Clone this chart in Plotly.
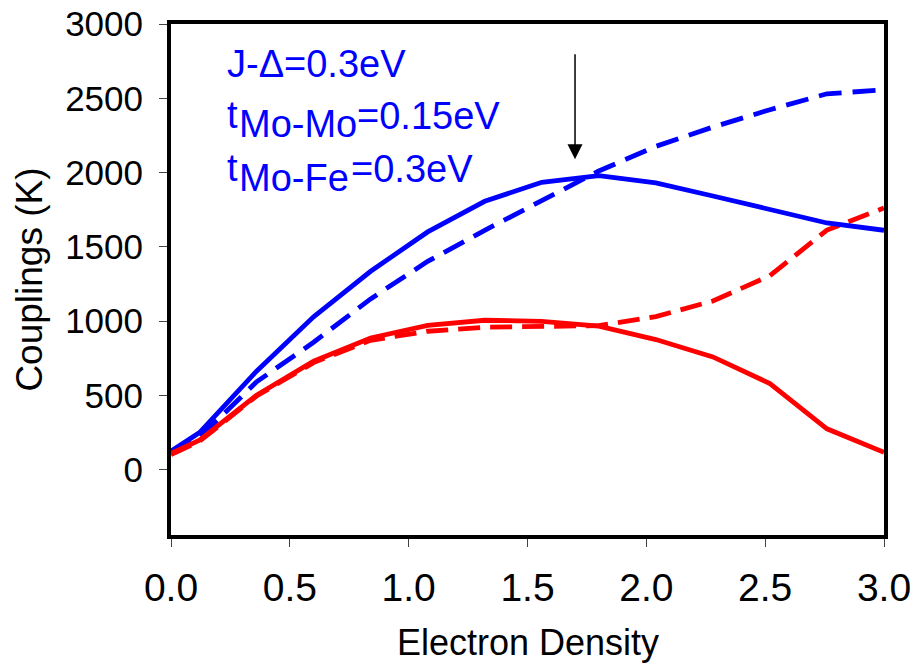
import plotly.graph_objects as go

# ---- data ----
density = [0.0, 0.12, 0.36, 0.60, 0.84, 1.08, 1.32, 1.56, 1.80, 2.04, 2.28, 2.52, 2.76, 3.0]
blue_solid = [123, 249, 662, 1028, 1335, 1600, 1806, 1934, 1979, 1930, 1842, 1750, 1660, 1611]
blue_dashed = [110, 215, 590, 857, 1149, 1402, 1611, 1806, 2010, 2176, 2306, 2423, 2530, 2557]
red_solid = [108, 197, 500, 729, 886, 971, 1005, 998, 965, 875, 758, 579, 274, 116]
red_dashed = [100, 190, 495, 720, 870, 931, 958, 962, 969, 1030, 1135, 1305, 1612, 1761]

x_ticks = [0.0, 0.5, 1.0, 1.5, 2.0, 2.5, 3.0]
x_tick_text = ["0.0", "0.5", "1.0", "1.5", "2.0", "2.5", "3.0"]
y_ticks = [0, 500, 1000, 1500, 2000, 2500, 3000]
y_tick_text = ["0", "500", "1000", "1500", "2000", "2500", "3000"]

arrow_x = 1.70
arrow_tip = 2090
arrow_tail = 2806

FONT = "Liberation Sans, Arial, sans-serif"
BLUE = "#0000FF"
RED = "#FF0000"

fig = go.Figure()
series = [
    (blue_dashed, BLUE, "23px,11px"),
    (red_dashed, RED, "22px,10px"),
    (blue_solid, BLUE, "solid"),
    (red_solid, RED, "solid"),
]
for ys, col, dash in series:
    fig.add_trace(go.Scatter(x=density, y=ys, mode="lines",
                             line=dict(color=col, width=4.8, dash=dash),
                             showlegend=False, hoverinfo="skip"))

# text labels (data coordinates)
labels = [
    ("J-\u0394=0.3eV", 0.226, 2730),
    ("t", 0.228, 2390),
    ("Mo-Mo", 0.276, 2325),
    ("=0.15eV", 0.776, 2382),
    ("t", 0.228, 2030),
    ("Mo-Fe", 0.276, 1964),
    ("=0.3eV", 0.748, 2022),
]
for txt, lx, ly in labels:
    fig.add_annotation(x=lx, y=ly, xref="x", yref="y", text=txt, showarrow=False,
                       xanchor="left", yanchor="middle",
                       font=dict(family=FONT, size=38, color=BLUE))

# arrow
fig.add_annotation(x=arrow_x, y=arrow_tip, ax=arrow_x, ay=arrow_tail,
                   xref="x", yref="y", axref="x", ayref="y",
                   showarrow=True, arrowhead=2, arrowsize=2, arrowwidth=1.5,
                   arrowcolor="black", text="")

# axis titles
fig.add_annotation(x=0.5, y=-0.211, xref="paper", yref="paper",
                   text="Electron Density", showarrow=False,
                   xanchor="center", yanchor="middle",
                   font=dict(family=FONT, size=36, color="black"))
fig.add_annotation(x=-0.199, y=0.50, xref="paper", yref="paper",
                   text="Couplings (K)", showarrow=False, textangle=-90,
                   xanchor="center", yanchor="middle",
                   font=dict(family=FONT, size=37, color="black"))

fig.update_layout(
    width=912, height=665,
    margin=dict(l=171, r=28, t=24, b=130, autoexpand=False),
    paper_bgcolor="white", plot_bgcolor="white",
    font=dict(family=FONT, color="black"),
)
fig.update_xaxes(range=[0, 3], tickvals=x_ticks, ticktext=x_tick_text,
                 automargin=False,
                 showgrid=False, zeroline=False,
                 showline=True, linecolor="black", linewidth=4, mirror=True,
                 ticks="outside", ticklen=8, tickwidth=1, tickcolor="#444",
                 ticklabelstandoff=7,
                 tickfont=dict(family=FONT, size=39, color="black"))
fig.update_yaxes(range=[-441, 3000], tickvals=y_ticks, ticktext=y_tick_text,
                 automargin=False,
                 showgrid=False, zeroline=False,
                 showline=True, linecolor="black", linewidth=4, mirror=True,
                 ticks="outside", ticklen=8, tickwidth=1, tickcolor="#444",
                 ticklabelstandoff=9,
                 tickfont=dict(family=FONT, size=35, color="black"))

fig.write_html("out.html")
